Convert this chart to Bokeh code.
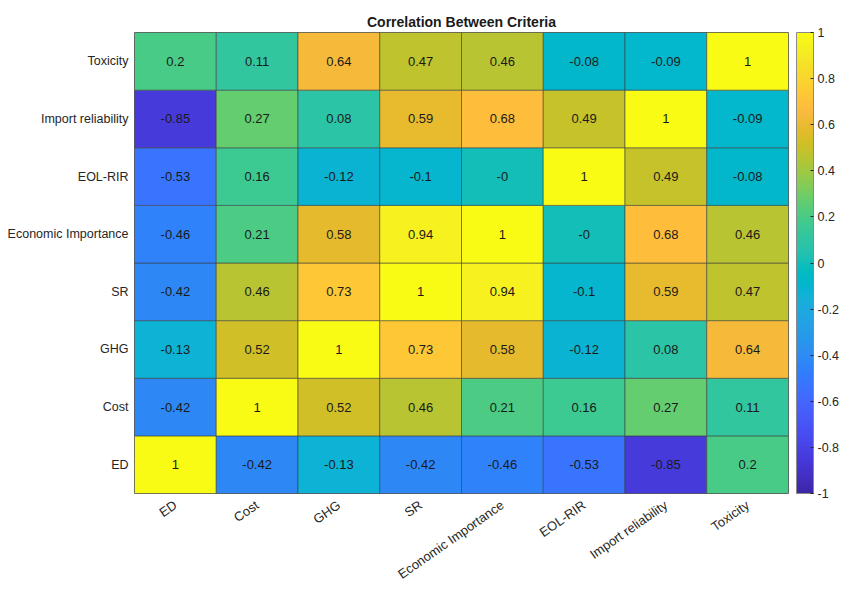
import math
import numpy as np
from bokeh.plotting import figure
from bokeh.models import (ColumnDataSource, LinearColorMapper, ColorBar, FixedTicker,
                          CustomJSTickFormatter)
from bokeh.transform import transform
from bokeh.core.properties import value
from bokeh.embed import file_html
from bokeh.resources import INLINE

# ---- data ----
criteria = ["ED", "Cost", "GHG", "SR", "Economic Importance", "EOL-RIR",
            "Import reliability", "Toxicity"]
row_ED = [1, -0.42, -0.13, -0.42, -0.46, -0.53, -0.85, 0.2]
row_Cost = [-0.42, 1, 0.52, 0.46, 0.21, 0.16, 0.27, 0.11]
row_GHG = [-0.13, 0.52, 1, 0.73, 0.58, -0.12, 0.08, 0.64]
row_SR = [-0.42, 0.46, 0.73, 1, 0.94, -0.1, 0.59, 0.47]
row_EI = [-0.46, 0.21, 0.58, 0.94, 1, -0.0, 0.68, 0.46]
row_EOL = [-0.53, 0.16, -0.12, -0.1, -0.0, 1, 0.49, -0.08]
row_IR = [-0.85, 0.27, 0.08, 0.59, 0.68, 0.49, 1, -0.09]
row_Tox = [0.2, 0.11, 0.64, 0.47, 0.46, -0.08, -0.09, 1]
rows = [row_ED, row_Cost, row_GHG, row_SR, row_EI, row_EOL, row_IR, row_Tox]
colorbar_ticks = [-1, -0.8, -0.6, -0.4, -0.2, 0, 0.2, 0.4, 0.6, 0.8, 1]
title_text = "Correlation Between Criteria"

# ---- parula colormap (MATLAB, 64 entries) ----
parula64 = [
    (0.2422, 0.1504, 0.6603), (0.2504, 0.1650, 0.7076), (0.2578, 0.1818, 0.7511),
    (0.2647, 0.1978, 0.7952), (0.2706, 0.2147, 0.8364), (0.2751, 0.2342, 0.8710),
    (0.2783, 0.2559, 0.8991), (0.2803, 0.2782, 0.9221), (0.2813, 0.3006, 0.9414),
    (0.2810, 0.3228, 0.9579), (0.2795, 0.3447, 0.9717), (0.2760, 0.3667, 0.9829),
    (0.2699, 0.3892, 0.9906), (0.2602, 0.4123, 0.9952), (0.2440, 0.4358, 0.9988),
    (0.2206, 0.4603, 0.9973), (0.1963, 0.4847, 0.9892), (0.1834, 0.5074, 0.9798),
    (0.1786, 0.5289, 0.9682), (0.1764, 0.5499, 0.9520), (0.1687, 0.5703, 0.9359),
    (0.1540, 0.5902, 0.9218), (0.1460, 0.6091, 0.9079), (0.1380, 0.6276, 0.8973),
    (0.1248, 0.6459, 0.8883), (0.1113, 0.6635, 0.8763), (0.0952, 0.6798, 0.8598),
    (0.0689, 0.6948, 0.8394), (0.0297, 0.7082, 0.8163), (0.0036, 0.7203, 0.7917),
    (0.0067, 0.7312, 0.7660), (0.0433, 0.7411, 0.7394), (0.0964, 0.7500, 0.7120),
    (0.1408, 0.7584, 0.6842), (0.1717, 0.7670, 0.6554), (0.1938, 0.7758, 0.6251),
    (0.2161, 0.7843, 0.5923), (0.2470, 0.7918, 0.5567), (0.2906, 0.7973, 0.5188),
    (0.3406, 0.8008, 0.4789), (0.3909, 0.8029, 0.4354), (0.4456, 0.8024, 0.3909),
    (0.5044, 0.7993, 0.3480), (0.5616, 0.7942, 0.3045), (0.6174, 0.7876, 0.2612),
    (0.6720, 0.7793, 0.2227), (0.7242, 0.7698, 0.1910), (0.7738, 0.7598, 0.1646),
    (0.8203, 0.7498, 0.1535), (0.8634, 0.7406, 0.1596), (0.9035, 0.7330, 0.1774),
    (0.9393, 0.7288, 0.2100), (0.9728, 0.7298, 0.2394), (0.9956, 0.7434, 0.2371),
    (0.9970, 0.7659, 0.2199), (0.9952, 0.7893, 0.2028), (0.9892, 0.8136, 0.1885),
    (0.9786, 0.8386, 0.1766), (0.9676, 0.8639, 0.1643), (0.9610, 0.8890, 0.1537),
    (0.9597, 0.9135, 0.1423), (0.9628, 0.9373, 0.1265), (0.9691, 0.9606, 0.1064),
    (0.9769, 0.9839, 0.0805)]
arr = np.array(parula64)
pos = np.linspace(0, 1, len(arr))
fine = np.linspace(0, 1, 256)
palette = []
for t in fine:
    r, g, b = (np.interp(t, pos, arr[:, k]) for k in range(3))
    palette.append("#%02x%02x%02x" % (int(round(r * 255)), int(round(g * 255)), int(round(b * 255))))

# ---- table for the glyphs ----
xs, ys, vals, labels = [], [], [], []
for i, rname in enumerate(criteria):
    for j, cname in enumerate(criteria):
        v = rows[i][j]
        xs.append(cname)
        ys.append(rname)
        vals.append(v)
        labels.append(f"{v:g}")
source = ColumnDataSource(dict(x=xs, y=ys, v=vals, label=labels))

FONT = "Liberation Sans"
TXT = "#262626"

mapper = LinearColorMapper(palette=palette, low=-1, high=1)

p = figure(x_range=criteria, y_range=criteria, frame_width=654, frame_height=461,
           toolbar_location=None, output_backend="svg",
           min_border_left=134, min_border_top=32, min_border_right=0, min_border_bottom=0,
           background_fill_color="white", border_fill_color="white")

p.title.text = title_text
p.title.align = "center"
p.title.text_font = FONT
p.title.text_font_size = "14px"
p.title.text_font_style = "bold"
p.title.text_color = "#1a1a1a"
p.title.standoff = 5

p.rect(x="x", y="y", width=1, height=1, source=source,
       fill_color=transform("v", mapper), line_color="#3a3a3a",
       line_width=0.8, line_alpha=0.7)
p.text(x="x", y="y", text="label", source=source, text_align="center",
       text_baseline="middle", text_font_size="13px", text_font=value(FONT),
       text_color="#1a1a1a")

p.grid.visible = False
p.outline_line_color = "#6a6a6a"
for ax in (p.xaxis, p.yaxis):
    ax.axis_line_color = None
    ax.major_tick_line_color = None
    ax.minor_tick_line_color = None
    ax.major_label_text_font = FONT
    ax.major_label_text_color = TXT
p.yaxis.major_label_text_font_size = "12.5px"
p.yaxis.major_label_standoff = 0
p.xaxis.major_label_text_font_size = "13px"
p.xaxis.major_label_orientation = math.radians(35)
p.xaxis.major_label_standoff = 4

cbar = ColorBar(color_mapper=mapper, ticker=FixedTicker(ticks=colorbar_ticks),
                formatter=CustomJSTickFormatter(code="return Number(tick.toFixed(1)).toString()"),
                width=17, height=461, location=(8, 0), margin=0, padding=0,
                major_label_text_font=FONT, major_label_text_font_size="12.5px",
                major_label_text_color=TXT, label_standoff=4,
                major_tick_line_color="#262626", major_tick_in=3, major_tick_out=0,
                minor_tick_line_color=None, bar_line_color="#8a8a8a",
                background_fill_color=None, border_line_color=None)
p.add_layout(cbar, "right")

open("out.html", "w").write(file_html(p, INLINE))
